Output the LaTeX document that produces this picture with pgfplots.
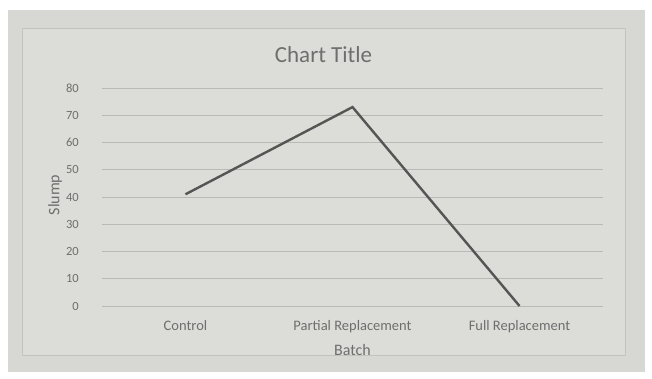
\documentclass[border=0pt]{standalone}
\usepackage{pgfplots}
\pgfplotsset{compat=1.18}
\usepackage{fontspec}
\setmainfont{Carlito}
\definecolor{paper}{HTML}{D7D8D4}
\definecolor{panel}{HTML}{DCDDD9}
\definecolor{frame}{HTML}{C2C3BF}
\definecolor{gridc}{HTML}{B9BAB6}
\definecolor{txt}{HTML}{6E6E6E}
\definecolor{linec}{HTML}{555555}
\begin{document}
\begin{tikzpicture}[x=1pt,y=1pt]
  % page and chart area
  \fill[white] (0,0) rectangle (652,378);
  \fill[paper] (8,6) rectangle (645,368);
  \draw[frame, fill=panel] (22,23) rectangle (625,350);
  \node[txt, font=\fontsize{23}{27}\selectfont] at (323.5,323) {Chart Title};
  \node[txt, font=\fontsize{16}{19}\selectfont, rotate=90] at (55,183) {Slump};
  \begin{axis}[
    at={(102pt,72pt)}, anchor=south west,
    scale only axis, width=501pt, height=218pt,
    xmin=-0.5, xmax=2.5, ymin=0, ymax=80,
    xtick={0,1,2},
    xticklabels={Control,Partial Replacement,Full Replacement},
    ytick={0,10,...,80},
    axis line style={draw=none},
    major tick length=0pt,
    ymajorgrids, grid style={gridc, line width=0.9pt},
    tick label style={txt, inner sep=0pt},
    /pgf/number format/assume math mode=true,
    yticklabel style={anchor=east, xshift=-23pt, font=\fontsize{12.5}{15}\selectfont},
    xticklabel style={anchor=north, yshift=-14pt, font=\fontsize{14.5}{17}\selectfont},
    xlabel={Batch},
    xlabel style={txt, font=\fontsize{16}{19}\selectfont,
      at={(axis description cs:0.5,0)}, anchor=center, yshift=-44pt},
    clip=false,
  ]
    \addplot[linec, line width=2.4pt] coordinates {(0,41) (1,73) (2,0)};
  \end{axis}
\end{tikzpicture}
\end{document}
